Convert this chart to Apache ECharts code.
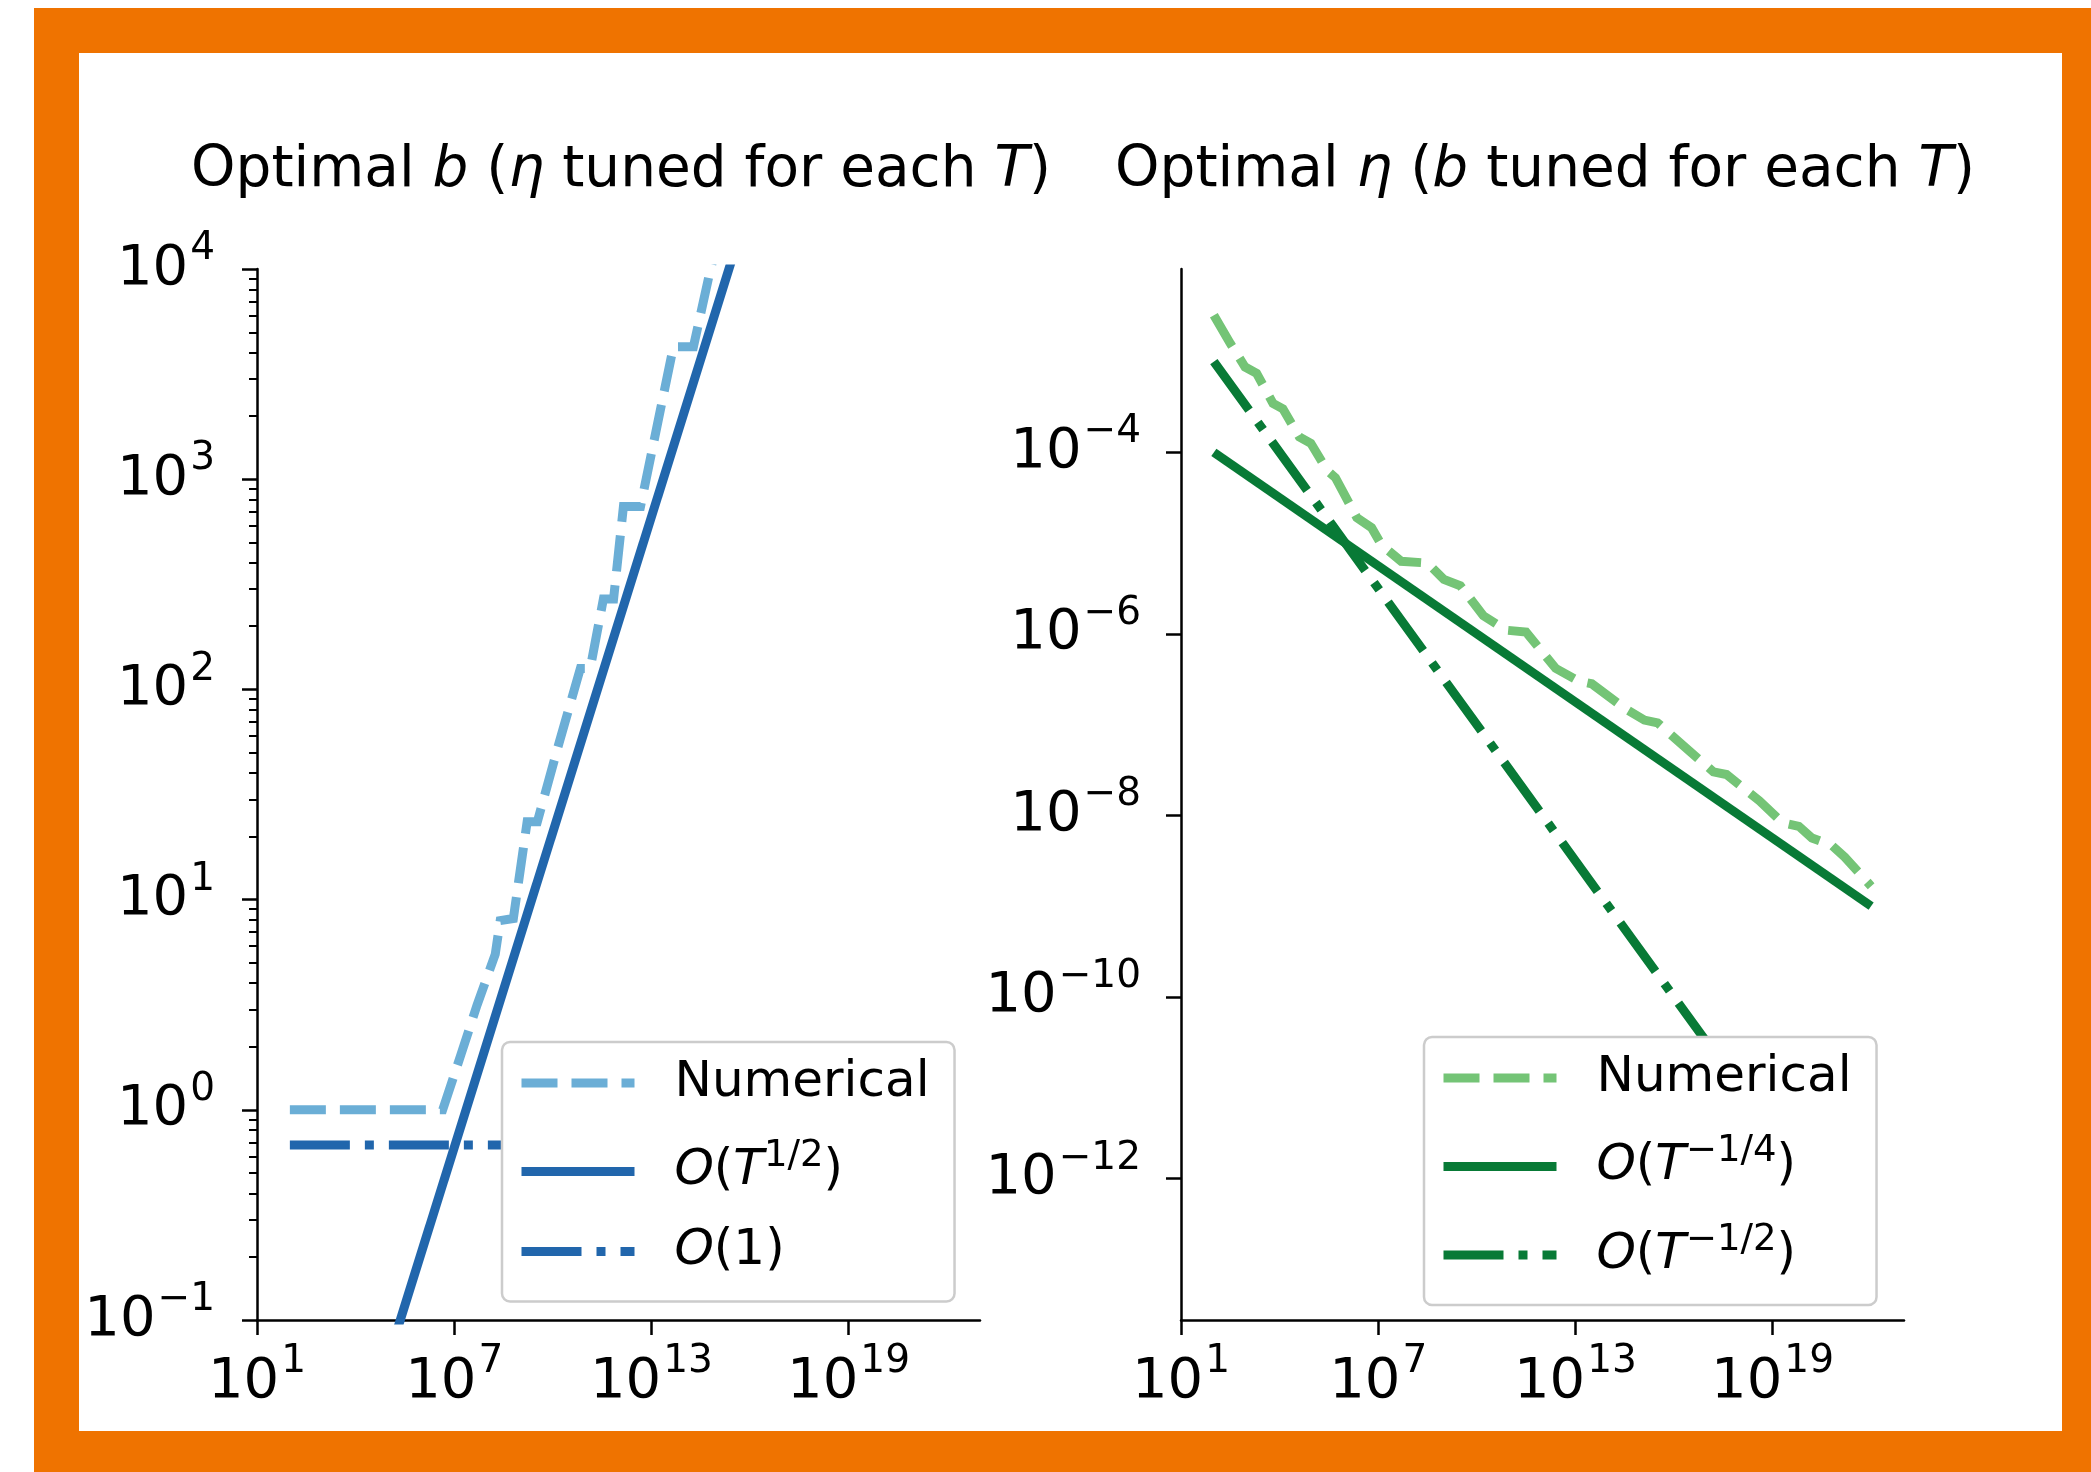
<!DOCTYPE html>
<html>
<head>
<meta charset="utf-8">
<script src="https://cdn.jsdelivr.net/npm/echarts@6/dist/echarts.min.js"></script>
<style>
  html, body { margin: 0; padding: 0; background: #ffffff; }
  #chart { width: 2091px; height: 1472px; }
</style>
</head>
<body>
<div id="chart"></div>
<script>
// All values are log10 exponents: both panels use log-scaled axes.

// Left panel: optimal batch size b vs horizon T
const bNumLogT   = [2.0, 4.0, 6.65, 7.2, 7.7, 8.25, 8.4, 8.8, 9.22, 9.53, 10.2, 10.84, 11.14, 11.54, 11.85, 12.15, 12.67, 13.67, 14.28, 14.8, 16.0, 18.0, 20.0, 22.0];
const bNumLogB   = [0.0, 0.0, 0.0, 0.26, 0.5, 0.74, 0.9, 0.91, 1.37, 1.37, 1.75, 2.1, 2.1, 2.43, 2.43, 2.87, 2.87, 3.63, 3.63, 4.0, 4.7, 5.8, 6.8, 7.9];
const bSqrtLogT  = [2.0, 22.0];
const bSqrtLogB  = [-2.68, 7.32];
const bConstLogT = [2.0, 22.0];
const bConstLogB = [-0.167, -0.167];

// Right panel: optimal learning rate eta vs horizon T
const etaNumLogT   = [2.0, 2.5, 2.95, 3.3, 3.8, 4.1, 4.6, 4.95, 5.45, 5.7, 6.35, 6.8, 7.1, 7.7, 8.5, 9.0, 9.5, 10.2, 10.9, 11.5, 12.4, 13.1, 13.5, 14.5, 15.1, 15.5, 16.5, 17.2, 17.6, 18.6, 19.3, 19.8, 20.2, 20.8, 21.2, 22.0];
const etaNumLogEta = [-2.49, -2.8, -3.06, -3.13, -3.46, -3.52, -3.83, -3.9, -4.2, -4.28, -4.72, -4.83, -5.02, -5.2, -5.22, -5.4, -5.47, -5.8, -5.96, -5.98, -6.38, -6.52, -6.55, -6.82, -6.95, -6.98, -7.3, -7.52, -7.55, -7.84, -8.08, -8.12, -8.25, -8.33, -8.46, -8.78];
const etaQuarterLogT   = [2.0, 22.0];
const etaQuarterLogEta = [-4.0, -9.0];
const etaHalfLogT   = [2.0, 22.0];
const etaHalfLogEta = [-3.0, -13.0];

// Tick exponents
const xTickExps   = [1, 7, 13, 19];
const bTickExps   = [-1, 0, 1, 2, 3, 4];
const etaTickExps = [-12, -10, -8, -6, -4];
const minorMultipliers = [2, 3, 4, 5, 6, 7, 8, 9];

const pairs = (xs, ys) => xs.map((x, i) => [x, ys[i]]);
const bMinorTicks = [];
for (let e = -1; e < 4; e++) {
  minorMultipliers.forEach(m => bMinorTicks.push(e + Math.log10(m)));
}

const FONT = 'DejaVu Sans';
const BLUE_LIGHT = '#6baed6';
const BLUE_DARK = '#2166ac';
const GREEN_LIGHT = '#74c476';
const GREEN_DARK = '#087a36';
const ORANGE = '#ef7300';
const LW = 9;
const DASHED = [36, 14];
const DASHDOT = [60, 15, 9, 15];

const expText = v => String(Math.round(v)).replace('-', '\u2212');
const powLabel = v => '{b|10}{s|' + expText(v) + '}';
const tickRich = {
  b: { fontFamily: FONT, fontSize: 56, lineHeight: 64, height: 64, color: '#000' },
  s: { fontFamily: FONT, fontSize: 39, lineHeight: 24, height: 24, verticalAlign: 'top', color: '#000', padding: [0, 0, 0, 2] }
};

const axisLineStyle = { show: true, onZero: false, lineStyle: { color: '#000', width: 2.5 } };

function xAxisFor(gridIndex) {
  return {
    type: 'value', gridIndex, min: 1, max: 23,
    axisLine: axisLineStyle,
    axisTick: { show: true, length: 15, lineStyle: { color: '#000', width: 2.5 }, customValues: xTickExps },
    axisLabel: { show: true, margin: 30, formatter: powLabel, rich: tickRich, customValues: xTickExps },
    splitLine: { show: false }
  };
}

const legendRich = {
  n:  { fontFamily: FONT, fontSize: 50, lineHeight: 50, height: 50, color: '#000' },
  np: { fontFamily: FONT, fontSize: 50, lineHeight: 50, height: 50, color: '#000', padding: [0, 0, 0, 35] },
  i:  { fontFamily: FONT, fontSize: 50, lineHeight: 50, height: 50, fontStyle: 'italic', color: '#000' },
  ip: { fontFamily: FONT, fontSize: 50, lineHeight: 50, height: 50, fontStyle: 'italic', color: '#000', padding: [0, 0, 0, 35] },
  s:  { fontFamily: FONT, fontSize: 37, lineHeight: 20, height: 20, verticalAlign: 'top', color: '#000' }
};
const legendText = {
  'b-num':   '{np|Numerical}',
  'b-sqrt':  '{ip|O}{n|(}{i|T}{s|1/2}{n|)}',
  'b-const': '{ip|O}{n|(1)}',
  'eta-num': '{np|Numerical}',
  'eta-q':   '{ip|O}{n|(}{i|T}{s|\u22121/4}{n|)}',
  'eta-h':   '{ip|O}{n|(}{i|T}{s|\u22121/2}{n|)}'
};
function legendFor(left, top, names) {
  return {
    orient: 'vertical', left, top, z: 20,
    padding: [16, 25, 25, 15],
    itemWidth: 113, itemHeight: 50, itemGap: 30,
    backgroundColor: '#ffffff', borderColor: '#cccccc', borderWidth: 2.5, borderRadius: 8,
    lineStyle: { width: LW },
    itemStyle: { opacity: 0, borderWidth: 0 },
    selectedMode: false,
    data: names,
    formatter: name => legendText[name],
    textStyle: { rich: legendRich }
  };
}

function lineSeries(name, xi, yi, data, color, type, z) {
  return {
    name, type: 'line', xAxisIndex: xi, yAxisIndex: yi, data,
    symbol: 'none', showSymbol: false, clip: true, z,
    lineStyle: { color, width: LW, type, cap: 'butt', join: 'miter' },
    itemStyle: { color },
    emphasis: { disabled: true },
    animation: false
  };
}

const titleRich = { i: { fontFamily: FONT, fontSize: 56.5, fontStyle: 'italic', color: '#000' } };
const titleStyle = { fontFamily: FONT, fontSize: 56.5, fontWeight: 'normal', color: '#000', rich: titleRich };

const option = {
  backgroundColor: '#ffffff',
  animation: false,
  title: [
    { text: 'Optimal {i|b} ({i|\u03b7} tuned for each {i|T})', left: 616, top: 138, textAlign: 'center', textStyle: titleStyle },
    { text: 'Optimal {i|\u03b7} ({i|b} tuned for each {i|T})', left: 1540, top: 138, textAlign: 'center', textStyle: titleStyle }
  ],
  grid: [
    { left: 257, top: 269, width: 723, height: 1051, containLabel: false },
    { left: 1181, top: 269, width: 723, height: 1051, containLabel: false }
  ],
  xAxis: [xAxisFor(0), xAxisFor(1)],
  yAxis: [
    {
      type: 'value', gridIndex: 0, min: -1, max: 4,
      axisLine: axisLineStyle,
      axisTick: { show: true, length: 15, lineStyle: { color: '#000', width: 2.5 }, customValues: bTickExps },
      axisLabel: { show: true, margin: 42, formatter: powLabel, rich: tickRich, customValues: bTickExps },
      splitLine: { show: false }
    },
    {
      // minor ticks of the left log axis
      type: 'value', gridIndex: 0, position: 'left', min: -1, max: 4,
      axisLine: { show: false, onZero: false },
      axisTick: { show: true, length: 8, lineStyle: { color: '#000', width: 2 }, customValues: bMinorTicks },
      axisLabel: { show: false },
      splitLine: { show: false }
    },
    {
      type: 'value', gridIndex: 1, min: -13.56, max: -1.98,
      axisLine: axisLineStyle,
      axisTick: { show: true, length: 15, lineStyle: { color: '#000', width: 2.5 }, customValues: etaTickExps },
      axisLabel: { show: true, margin: 40, formatter: powLabel, rich: tickRich, customValues: etaTickExps },
      splitLine: { show: false }
    }
  ],
  legend: [
    legendFor(502, 1042, ['b-num', 'b-sqrt', 'b-const']),
    legendFor(1424, 1037, ['eta-num', 'eta-q', 'eta-h'])
  ],
  series: [
    lineSeries('b-num', 0, 0, pairs(bNumLogT, bNumLogB), BLUE_LIGHT, DASHED, 3),
    lineSeries('b-sqrt', 0, 0, pairs(bSqrtLogT, bSqrtLogB), BLUE_DARK, 'solid', 4),
    lineSeries('b-const', 0, 0, pairs(bConstLogT, bConstLogB), BLUE_DARK, DASHDOT, 5),
    lineSeries('eta-num', 1, 2, pairs(etaNumLogT, etaNumLogEta), GREEN_LIGHT, DASHED, 3),
    lineSeries('eta-q', 1, 2, pairs(etaQuarterLogT, etaQuarterLogEta), GREEN_DARK, 'solid', 4),
    lineSeries('eta-h', 1, 2, pairs(etaHalfLogT, etaHalfLogEta), GREEN_DARK, DASHDOT, 5)
  ],
  graphic: [
    // orange frame around the figure
    { type: 'rect', z: 100, shape: { x: 34, y: 8, width: 2057, height: 45 }, style: { fill: ORANGE } },
    { type: 'rect', z: 100, shape: { x: 34, y: 8, width: 45, height: 1464 }, style: { fill: ORANGE } },
    { type: 'rect', z: 100, shape: { x: 2062, y: 8, width: 29, height: 1464 }, style: { fill: ORANGE } },
    { type: 'rect', z: 100, shape: { x: 34, y: 1431, width: 2057, height: 41 }, style: { fill: ORANGE } }
  ]
};

const chart = echarts.init(document.getElementById('chart'), null, { renderer: 'canvas' });
chart.setOption(option);
</script>
</body>
</html>
